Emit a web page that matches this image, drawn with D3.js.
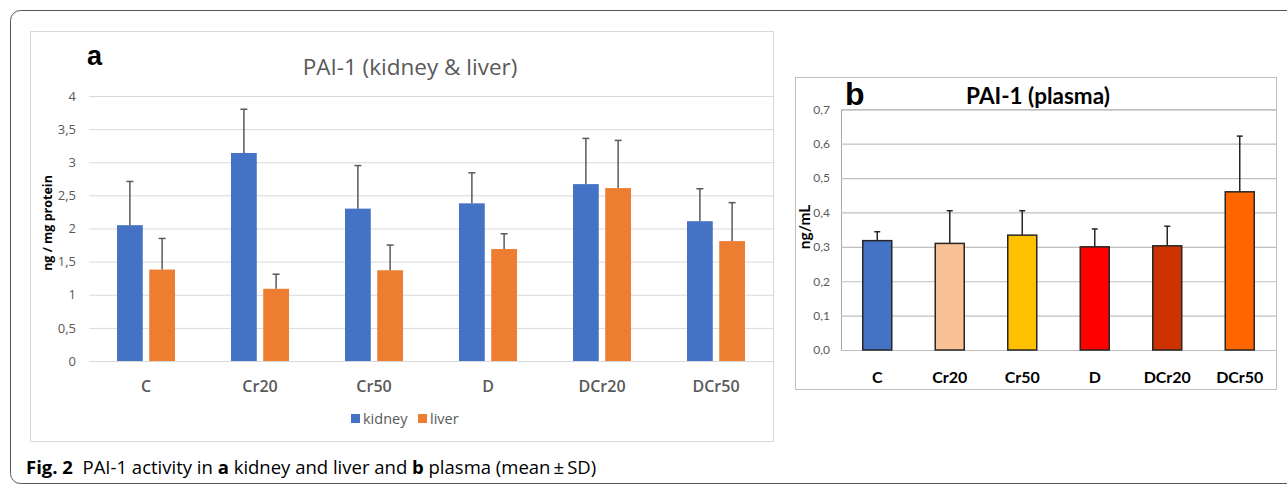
<!DOCTYPE html>
<html>
<head>
<meta charset="utf-8">
<script src="https://cdn.jsdelivr.net/npm/d3@7/dist/d3.min.js"></script>
<style>
  body { margin: 0; background: #fff; }
  svg { display: block; }
</style>
</head>
<body>
<div id="fig"></div>
<script>
// panel a: PAI-1 in kidney and liver (ng / mg protein)
var groups = ["C", "Cr20", "Cr50", "D", "DCr20", "DCr50"];
var series = ["kidney", "liver"];
var kidney = [2.05, 3.14, 2.30, 2.38, 2.67, 2.11];
var kidneySD = [0.66, 0.66, 0.65, 0.46, 0.69, 0.49];
var liver = [1.38, 1.09, 1.37, 1.69, 2.61, 1.81];
var liverSD = [0.47, 0.22, 0.38, 0.23, 0.72, 0.58];
var ticksA = [0, 0.5, 1, 1.5, 2, 2.5, 3, 3.5, 4];

// panel b: PAI-1 in plasma (ng/mL)
var plasma = [0.318, 0.310, 0.334, 0.300, 0.303, 0.460];
var plasmaSD = [0.026, 0.095, 0.071, 0.052, 0.057, 0.162];
var plasmaColors = ["#4472C4", "#F8C196", "#FFC000", "#FF0000", "#CC3300", "#FF6600"];
var ticksB = [0, 0.1, 0.2, 0.3, 0.4, 0.5, 0.6, 0.7];

var seriesColors = {kidney: "#4472C4", liver: "#ED7D31"};
var comma = function(f) {
  return function(v) { return f(v).replace(".", ","); };
};

var svg = d3.select("#fig")
  .append("svg")
  .attr("width", 1287)
  .attr("height", 485);

// outer figure frame (right side runs off the page)
svg.append("rect")
  .attr("x", 10.5).attr("y", 10.5)
  .attr("width", 1300).attr("height", 473)
  .attr("rx", 10)
  .attr("fill", "none")
  .attr("stroke", "#555")
  .attr("stroke-width", 1);

// ---------------- panel a ----------------
var ga = svg.append("g");

ga.append("rect")
  .attr("x", 30.5).attr("y", 31.5)
  .attr("width", 743).attr("height", 410)
  .attr("fill", "#fff")
  .attr("stroke", "#D9D9D9");

var xa = d3.scaleBand().domain(groups).range([89, 773]);
var xa1 = d3.scaleBand().domain(series).range([28, 86]).paddingInner(0.2);
var ya = d3.scaleLinear().domain([0, 4]).range([361, 96]);

ga.append("g")
  .attr("transform", "translate(89,0)")
  .call(d3.axisLeft(ya).tickValues(ticksA).tickSize(-684).tickFormat(comma(d3.format("~g"))))
  .call(function(g) {
    g.select(".domain").remove();
    g.selectAll(".tick line").attr("stroke", "#D9D9D9");
    g.selectAll(".tick text")
      .attr("x", -13)
      .attr("fill", "#595959")
      .style("font-family", "'Open Sans', sans-serif")
      .style("font-size", "13px");
  });

var rows = [];
groups.forEach(function(g, i) {
  rows.push({group: g, s: "kidney", v: kidney[i], sd: kidneySD[i]});
  rows.push({group: g, s: "liver", v: liver[i], sd: liverSD[i]});
});

ga.selectAll(".bar-a")
  .data(rows)
  .enter()
  .append("rect")
  .attr("class", "bar-a")
  .attr("x", function(d) { return xa(d.group) + xa1(d.s); })
  .attr("y", function(d) { return ya(d.v); })
  .attr("width", xa1.bandwidth())
  .attr("height", function(d) { return ya(0) - ya(d.v); })
  .attr("fill", function(d) { return seriesColors[d.s]; });

var errA = ga.selectAll(".err-a")
  .data(rows)
  .enter()
  .append("g")
  .attr("class", "err-a")
  .attr("stroke", "#595959")
  .attr("stroke-width", 1.5);
errA.append("line")
  .attr("x1", function(d) { return xa(d.group) + xa1(d.s) + xa1.bandwidth() / 2; })
  .attr("x2", function(d) { return xa(d.group) + xa1(d.s) + xa1.bandwidth() / 2; })
  .attr("y1", function(d) { return ya(d.v); })
  .attr("y2", function(d) { return ya(d.v + d.sd); });
errA.append("line")
  .attr("x1", function(d) { return xa(d.group) + xa1(d.s) + xa1.bandwidth() / 2 - 3.5; })
  .attr("x2", function(d) { return xa(d.group) + xa1(d.s) + xa1.bandwidth() / 2 + 3.5; })
  .attr("y1", function(d) { return ya(d.v + d.sd); })
  .attr("y2", function(d) { return ya(d.v + d.sd); });

ga.append("g")
  .attr("transform", "translate(0,361)")
  .call(d3.axisBottom(xa).tickSize(0).tickPadding(0))
  .call(function(g) {
    g.select(".domain").attr("stroke", "#D9D9D9");
    g.selectAll(".tick text")
      .attr("y", 31)
      .attr("dy", 0)
      .attr("fill", "#595959")
      .style("font-family", "'Open Sans', sans-serif")
      .style("font-weight", 600)
      .style("font-size", "16px");
  });

ga.append("text")
  .attr("transform", "translate(52,223) rotate(-90)")
  .attr("text-anchor", "middle")
  .attr("fill", "#000")
  .style("font-family", "'Open Sans', sans-serif")
  .style("font-weight", 700)
  .style("font-size", "12.5px")
  .text("ng / mg protein");

ga.append("text")
  .attr("x", 410).attr("y", 75)
  .attr("text-anchor", "middle")
  .attr("fill", "#595959")
  .style("font-family", "'Open Sans', sans-serif")
  .style("font-size", "22.5px")
  .text("PAI-1 (kidney & liver)");

ga.append("text")
  .attr("x", 87).attr("y", 65)
  .attr("fill", "#000")
  .style("font-family", "'Liberation Sans', Arial, sans-serif")
  .style("font-weight", 700)
  .style("font-size", "27px")
  .text("a");

// legend
var leg = ga.selectAll(".leg")
  .data([{s: "kidney", x: 351}, {s: "liver", x: 418}])
  .enter()
  .append("g")
  .attr("class", "leg")
  .attr("transform", function(d) { return "translate(" + d.x + ",414)"; });
leg.append("rect")
  .attr("width", 9).attr("height", 9)
  .attr("fill", function(d) { return seriesColors[d.s]; });
leg.append("text")
  .attr("x", 12).attr("y", 9.5)
  .attr("fill", "#595959")
  .style("font-family", "'Open Sans', sans-serif")
  .style("font-size", "14.5px")
  .text(function(d) { return d.s; });

// ---------------- panel b ----------------
var gb = svg.append("g");

gb.append("rect")
  .attr("x", 795.5).attr("y", 77.5)
  .attr("width", 481).attr("height", 312)
  .attr("fill", "#fff")
  .attr("stroke", "#BFBFBF");

var xb = d3.scaleBand().domain(groups).range([841, 1276]).paddingInner(0.6).paddingOuter(0.3);
var yb = d3.scaleLinear().domain([0, 0.7]).range([350, 109.3]);

gb.append("g")
  .attr("transform", "translate(841,0)")
  .call(d3.axisLeft(yb).tickValues(ticksB).tickSize(-435).tickFormat(comma(d3.format(".1f"))))
  .call(function(g) {
    g.select(".domain").attr("stroke", "#A6A6A6");
    g.selectAll(".tick line").attr("stroke", "#BFBFBF").attr("stroke-width", 1.2);
    g.selectAll(".tick text")
      .attr("x", -11)
      .attr("fill", "#595959")
      .style("font-family", "Lato, sans-serif")
      .style("font-size", "12px");
  });

var rowsB = groups.map(function(g, i) {
  return {group: g, v: plasma[i], sd: plasmaSD[i], c: plasmaColors[i]};
});

gb.selectAll(".bar-b")
  .data(rowsB)
  .enter()
  .append("rect")
  .attr("class", "bar-b")
  .attr("x", function(d) { return xb(d.group); })
  .attr("y", function(d) { return yb(d.v); })
  .attr("width", xb.bandwidth())
  .attr("height", function(d) { return yb(0) - yb(d.v); })
  .attr("fill", function(d) { return d.c; })
  .attr("stroke", "#262626")
  .attr("stroke-width", 1.5);

var errB = gb.selectAll(".err-b")
  .data(rowsB)
  .enter()
  .append("g")
  .attr("class", "err-b")
  .attr("stroke", "#262626")
  .attr("stroke-width", 1.5);
errB.append("line")
  .attr("x1", function(d) { return xb(d.group) + xb.bandwidth() / 2; })
  .attr("x2", function(d) { return xb(d.group) + xb.bandwidth() / 2; })
  .attr("y1", function(d) { return yb(d.v); })
  .attr("y2", function(d) { return yb(d.v + d.sd); });
errB.append("line")
  .attr("x1", function(d) { return xb(d.group) + xb.bandwidth() / 2 - 3; })
  .attr("x2", function(d) { return xb(d.group) + xb.bandwidth() / 2 + 3; })
  .attr("y1", function(d) { return yb(d.v + d.sd); })
  .attr("y2", function(d) { return yb(d.v + d.sd); });

gb.append("g")
  .attr("transform", "translate(0,350)")
  .call(d3.axisBottom(xb).tickSize(0).tickPadding(0))
  .call(function(g) {
    g.select(".domain").remove();
    g.selectAll(".tick text")
      .attr("y", 33)
      .attr("dy", 0)
      .attr("fill", "#000")
      .style("font-family", "Lato, sans-serif")
      .style("font-weight", 700)
      .style("font-size", "16px");
  });

gb.append("text")
  .attr("transform", "translate(810,227) rotate(-90)")
  .attr("text-anchor", "middle")
  .attr("fill", "#000")
  .style("font-family", "Lato, sans-serif")
  .style("font-weight", 700)
  .style("font-size", "15.5px")
  .text("ng/mL");

gb.append("text")
  .attr("x", 1038).attr("y", 104)
  .attr("text-anchor", "middle")
  .attr("fill", "#000")
  .style("font-family", "Lato, sans-serif")
  .style("font-weight", 700)
  .style("font-size", "22.5px")
  .text("PAI-1 (plasma)");

gb.append("text")
  .attr("x", 845).attr("y", 105)
  .attr("fill", "#000")
  .style("font-family", "'Liberation Sans', Arial, sans-serif")
  .style("font-weight", 700)
  .style("font-size", "32px")
  .text("b");

// ---------------- caption ----------------
var cap = svg.append("text")
  .attr("x", 26).attr("y", 474)
  .attr("fill", "#000")
  .style("font-family", "'Open Sans', sans-serif")
  .style("font-size", "18.5px");
var parts = [
  ["Fig. 2", 700], ["\u00a0\u00a0PAI-1 activity in ", 400], ["a", 700],
  [" kidney and liver and ", 400], ["b", 700], [" plasma (mean\u2009\u00b1\u2009SD)", 400]
];
cap.selectAll("tspan")
  .data(parts)
  .enter()
  .append("tspan")
  .style("font-weight", function(d) { return d[1]; })
  .text(function(d) { return d[0]; });
</script>
</body>
</html>
